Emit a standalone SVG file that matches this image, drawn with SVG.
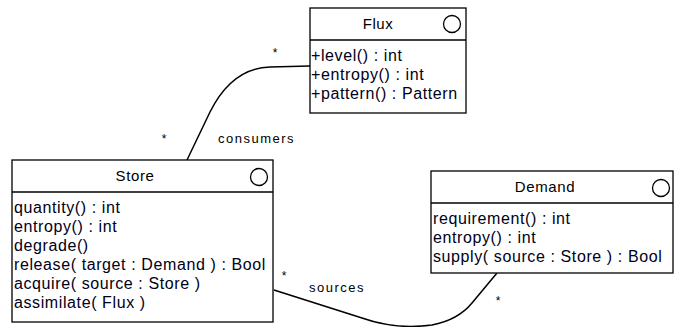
<svg xmlns="http://www.w3.org/2000/svg" width="682" height="327" viewBox="0 0 682 327">
<style>
.box{fill:#fff;stroke:#000;stroke-width:1.3}
.sep{stroke:#000;stroke-width:1.3}
.icon{fill:none;stroke:#000;stroke-width:1.3}
.hdr{font-family:"Liberation Sans",Arial,sans-serif;font-size:15px;fill:#000;text-anchor:middle;letter-spacing:0.6px}
.op{font-family:"Liberation Sans",Arial,sans-serif;font-size:16px;fill:#000018;letter-spacing:0.6px}
.lbl{font-family:"Liberation Sans",Arial,sans-serif;font-size:13px;fill:#000;letter-spacing:1.5px}
.mult{font-family:"Liberation Sans",Arial,sans-serif;font-size:12px;fill:#000;text-anchor:middle}
.conn{fill:none;stroke:#000;stroke-width:1.5}
</style>
<rect width="682" height="327" fill="#fff"/>
<g id="connectors">
<path class="conn" d="M187,160 L210,112 Q232,68 270,67 L310,66"/>
<path class="conn" d="M274,290 L362,318 Q396,330 432,325 Q458,320 472,303 L497,273"/>
<text class="mult" x="275" y="57">*</text>
<text class="mult" x="164" y="143">*</text>
<text class="lbl" x="218" y="143">consumers</text>
<text class="mult" x="284" y="280">*</text>
<text class="lbl" x="309" y="292">sources</text>
<text class="mult" x="498" y="305">*</text>
</g>
<g id="Flux">
<rect class="box" x="310" y="8" width="156" height="105"/>
<line class="sep" x1="310" y1="40" x2="466" y2="40"/>
<circle class="icon" cx="452" cy="24" r="8.5"/>
<text class="hdr" x="378" y="29">Flux</text>
<text class="op" x="311" y="61">+level() : int</text>
<text class="op" x="311" y="80">+entropy() : int</text>
<text class="op" x="311" y="99">+pattern() : Pattern</text>
</g>
<g id="Store">
<rect class="box" x="12" y="160" width="261" height="162"/>
<line class="sep" x1="12" y1="192" x2="273" y2="192"/>
<circle class="icon" cx="259" cy="177" r="8.5"/>
<text class="hdr" x="135" y="181">Store</text>
<text class="op" x="14" y="213">quantity() : int</text>
<text class="op" x="14" y="232">entropy() : int</text>
<text class="op" x="14" y="251">degrade()</text>
<text class="op" x="14" y="270">release( target : Demand ) : Bool</text>
<text class="op" x="14" y="289">acquire( source : Store )</text>
<text class="op" x="14" y="308">assimilate( Flux )</text>
</g>
<g id="Demand">
<rect class="box" x="431" y="171" width="242" height="102"/>
<line class="sep" x1="431" y1="203" x2="673" y2="203"/>
<circle class="icon" cx="661" cy="188" r="8.5"/>
<text class="hdr" x="545" y="192">Demand</text>
<text class="op" x="433" y="224">requirement() : int</text>
<text class="op" x="433" y="243">entropy() : int</text>
<text class="op" x="433" y="262">supply( source : Store ) : Bool</text>
</g>
</svg>
